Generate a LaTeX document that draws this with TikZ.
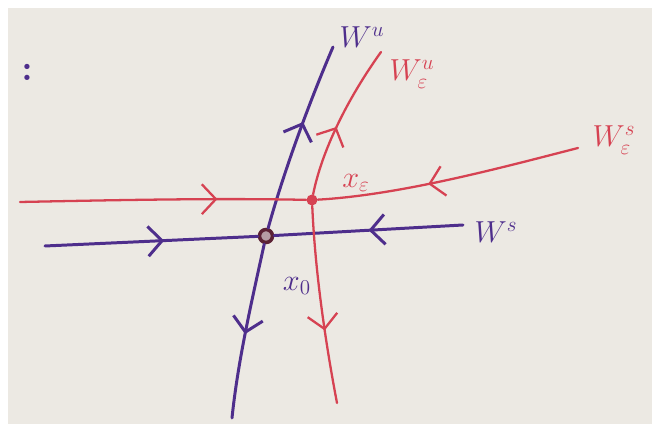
\documentclass[tikz,border=0pt]{standalone}
\usepackage{amsmath,amssymb}
\usepackage{xcolor}
\usetikzlibrary{arrows.meta, decorations.markings, positioning, calc}
\definecolor{inkblue}{RGB}{78,46,140}
\definecolor{inkred}{RGB}{214,66,82}
\definecolor{inkdot}{RGB}{92,34,52}
\definecolor{paper}{RGB}{236,233,227}

\tikzset{
  midarrow/.style={postaction={decorate}, decoration={markings,
      mark=at position #1 with {\arrow{Straight Barb[length=8pt, width=17pt]}}}},
  bluepath/.style={inkblue, line width=1.7pt, line cap=round},
  redpath/.style={inkred, line width=1.3pt, line cap=round},
  bluelbl/.style={font=\LARGE, text=inkblue},
  redlbl/.style={font=\LARGE, text=inkred},
}

\begin{document}
\begin{tikzpicture}[x=0.02cm, y=-0.02cm]

%% sheet of paper
\useasboundingbox (0,0) rectangle (657,431);
\fill[white] (0,0) rectangle (657,431);
\fill[paper] (8,8) rectangle (652,424);

%% fixed points
\node[circle, draw=inkdot, fill=inkdot!45, line width=2pt,
      minimum size=0.26cm, inner sep=0pt] (x0) at (266,236) {};
\node[circle, fill=inkred, minimum size=0.22cm, inner sep=0pt] (xe) at (312,200) {};

%% free ends of the manifolds
\coordinate (wu-top) at (333,47);
\coordinate (wu-bot) at (232,418);
\coordinate (ws-left) at (45,246);
\coordinate (ws-right) at (463,225);
\coordinate (weu-top) at (381,52);
\coordinate (weu-bot) at (337,403);
\coordinate (wes-left) at (20,202);
\coordinate (wes-right) at (578,148);

%% W^u and W^s through x_0
\draw[bluepath, midarrow=0.58] (x0) .. controls (282,178) and (306,110) .. (wu-top);
\draw[bluepath, midarrow=0.52] (x0) .. controls (252,300) and (238,360) .. (wu-bot);
\draw[bluepath, midarrow=0.56] (ws-left) -- (x0);
\draw[bluepath, midarrow=0.5] (ws-right) -- (x0);

%% perturbed manifolds through x_eps
\draw[redpath, midarrow=0.45] (xe) .. controls (322,150) and (348,98) .. (weu-top);
\draw[redpath, midarrow=0.63] (xe) .. controls (315,270) and (325,340) .. (weu-bot);
\draw[redpath, midarrow=0.69] (wes-left) .. controls (120,200) and (220,198) .. (xe);
\draw[redpath, midarrow=0.58] (wes-right) .. controls (500,168) and (400,195) .. (xe);

%% labels
\node[bluelbl] (lbl-wu) at (362,37) {$W^{u}$};
\node[redlbl] (lbl-weu) at (412,74) {$W^{u}_{\varepsilon}$};
\node[redlbl] (lbl-wes) at (614,140) {$W^{s}_{\varepsilon}$};
\node[bluelbl] (lbl-ws) at (496,232) {$W^{s}$};
\node[redlbl] (lbl-xe) at (356,183) {$x_{\varepsilon}$};
\node[bluelbl] (lbl-x0) at (297,286) {$x_{0}$};
\node[bluelbl, font=\huge\bfseries] (colon) at (27,72) {$\boldsymbol{:}$};

\end{tikzpicture}
\end{document}
